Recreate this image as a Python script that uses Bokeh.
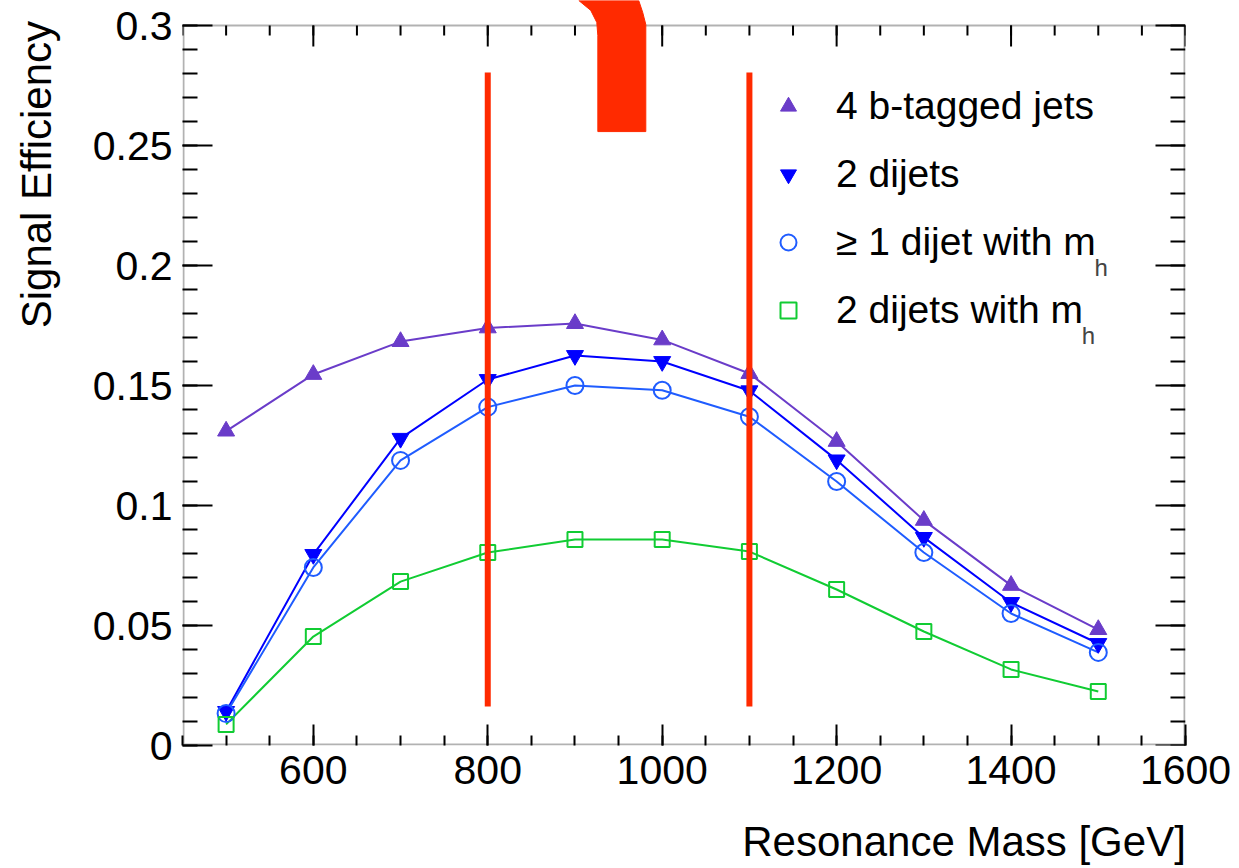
from bokeh.plotting import figure
from bokeh.models import (FixedTicker, Legend, LegendItem, Label,
                          BoxAnnotation, ColumnDataSource, Range1d)
from bokeh.embed import file_html
from bokeh.resources import INLINE

# ---------------- data ----------------
mass = [500, 600, 700, 800, 900, 1000, 1100, 1200, 1300, 1400, 1500]
eff_4b = [0.1310, 0.1546, 0.1683, 0.1740, 0.1758, 0.1690, 0.1550, 0.1267, 0.0938, 0.0667, 0.0483]
eff_2dijets = [0.0142, 0.0796, 0.1280, 0.1525, 0.1625, 0.1600, 0.1478, 0.1190, 0.0867, 0.0596, 0.0425]
eff_1dijet_mh = [0.0133, 0.0742, 0.1188, 0.1410, 0.1500, 0.1480, 0.1370, 0.1100, 0.0804, 0.0550, 0.0388]
eff_2dijets_mh = [0.0088, 0.0454, 0.0683, 0.0804, 0.0858, 0.0858, 0.0808, 0.0650, 0.0475, 0.0317, 0.0225]

labels = ["4 b-tagged jets", "2 dijets", "\u2265 1 dijet with m", "2 dijets with m"]
x_title = "Resonance Mass [GeV]"
y_title = "Signal Efficiency"

x_major = [600, 800, 1000, 1200, 1400, 1600]
x_minor = list(range(450, 1601, 50))
y_major = [0, 0.05, 0.1, 0.15, 0.2, 0.25, 0.3]
y_tick_labels = ["0", "0.05", "0.1", "0.15", "0.2", "0.25", "0.3"]
y_minor = [round(0.01 * i, 2) for i in range(0, 31)]

# red hand-drawn annotation
red_lines_x = [800, 1100]
red_lines_y0 = 0.0163
red_lines_y1 = 0.2804
hook_x = [926.2, 981.2, 981.2, 977.7, 973.1, 904.4, 918.1, 925.0, 926.2]
hook_y = [0.2558, 0.2558, 0.3004, 0.3054, 0.3104, 0.3104, 0.3063, 0.3013, 0.2958]

# ---------------- figure ----------------
FONT = "Liberation Sans"
NBSP = "\u00a0"
px_per_y = 720 / 0.3
px_per_x = 1003 / 1150
p = figure(width=1239, height=868, x_range=Range1d(450, 1600),
           y_range=Range1d(0, 0.3 + 25 / px_per_y), output_backend="svg",
           toolbar_location=None, title=None,
           min_border_left=182, min_border_right=54,
           min_border_top=0, min_border_bottom=123)
p.grid.visible = False
p.outline_line_color = None
p.background_fill_color = "white"

# frame box (inset by 1px so the clipped frame edges keep full width)
p.add_layout(BoxAnnotation(left=450 + 1 / px_per_x, right=1600 - 1 / px_per_x,
                           bottom=1 / px_per_y, top=0.3,
                           fill_color=None, line_color="black",
                           line_width=2, level="underlay"))

xa = p.xaxis[0]
xa.ticker = FixedTicker(ticks=x_major, minor_ticks=x_minor)
xa.axis_line_color = None
xa.major_tick_in = 21
xa.major_tick_out = 0
xa.minor_tick_in = 10
xa.minor_tick_out = 0
xa.major_tick_line_width = 2
xa.minor_tick_line_width = 2
xa.major_label_text_font = FONT
xa.major_label_text_font_size = "41px"
xa.major_label_text_color = "black"
xa.major_label_standoff = 10
xa.axis_label = NBSP * 48 + x_title
xa.axis_label_text_font = FONT
xa.axis_label_text_font_size = "42px"
xa.axis_label_text_font_style = "normal"
xa.axis_label_text_color = "black"
xa.axis_label_standoff = 31

ya = p.yaxis[0]
ya.ticker = FixedTicker(ticks=y_major, minor_ticks=y_minor)
ya.axis_line_color = None
ya.major_tick_in = 30
ya.major_tick_out = 0
ya.minor_tick_in = 15
ya.minor_tick_out = 0
ya.major_tick_line_width = 2
ya.minor_tick_line_width = 2
ya.major_label_text_font = FONT
ya.major_label_text_font_size = "41px"
ya.major_label_text_color = "black"
ya.major_label_standoff = 10
ya.major_label_overrides = {v: t for v, t in zip(y_major, y_tick_labels)}
ya.axis_label = NBSP * 34 + y_title
ya.axis_label_text_font = FONT
ya.axis_label_text_font_size = "42px"
ya.axis_label_text_font_style = "normal"
ya.axis_label_text_color = "black"
ya.axis_label_standoff = 30

# ticks on the top and right frame edges (frame top sits at y = 0.3)
p.segment(x0=x_major, y0=[0.3] * len(x_major), x1=x_major,
          y1=[0.3 - 21 / px_per_y] * len(x_major), line_color="black", line_width=2)
p.segment(x0=x_minor, y0=[0.3] * len(x_minor), x1=x_minor,
          y1=[0.3 - 10 / px_per_y] * len(x_minor), line_color="black", line_width=2)
p.segment(x0=[1600] * len(y_major), y0=y_major, x1=[1600 - 30 / px_per_x] * len(y_major),
          y1=y_major, line_color="black", line_width=2)
p.segment(x0=[1600] * len(y_minor), y0=y_minor, x1=[1600 - 15 / px_per_x] * len(y_minor),
          y1=y_minor, line_color="black", line_width=2)

# ---------------- series ----------------
c_4b = "#6a3cc9"
c_2d = "#0000ff"
c_1m = "#1f5cff"
c_2m = "#11cc33"

src = ColumnDataSource(dict(m=mass, a=eff_4b, b=eff_2dijets, c=eff_1dijet_mh, d=eff_2dijets_mh))

p.line("m", "a", source=src, line_color=c_4b, line_width=2)
p.line("m", "b", source=src, line_color=c_2d, line_width=2)
p.line("m", "c", source=src, line_color=c_1m, line_width=2)
p.line("m", "d", source=src, line_color=c_2m, line_width=2)

r_a = p.scatter("m", "a", source=src, marker="triangle", size=17,
                fill_color=c_4b, line_color=c_4b)
r_b = p.scatter("m", "b", source=src, marker="inverted_triangle", size=17,
                fill_color=c_2d, line_color=c_2d)
r_c = p.scatter("m", "c", source=src, marker="circle", size=17,
                fill_color=None, line_color=c_1m, line_width=2)
r_d = p.scatter("m", "d", source=src, marker="square", size=15,
                fill_color=None, line_color=c_2m, line_width=2)

# ---------------- red annotation ----------------
p.segment(x0=red_lines_x, y0=[red_lines_y0] * 2, x1=red_lines_x, y1=[red_lines_y1] * 2,
          line_color="#ff2a00", line_width=6)
p.patch(hook_x, hook_y, fill_color="#ff2a00", line_color="#ff2a00", line_width=1)

# ---------------- legend ----------------
legend = Legend(items=[LegendItem(label=labels[0], renderers=[r_a]),
                       LegendItem(label=labels[1], renderers=[r_b]),
                       LegendItem(label=labels[2], renderers=[r_c]),
                       LegendItem(label=labels[3], renderers=[r_d])],
                location=(586, 405))
legend.background_fill_alpha = 0
legend.border_line_color = None
legend.padding = 0
legend.margin = 0
legend.spacing = 8
legend.glyph_width = 40
legend.glyph_height = 60
legend.label_standoff = 28
legend.label_text_font = FONT
legend.label_text_font_size = "39px"
legend.label_text_color = "black"
p.add_layout(legend)

# subscripts h
p.add_layout(Label(x=1495.7, y=0.19917, text="h", text_font=FONT,
                   text_font_size="24px", text_baseline="alphabetic"))
p.add_layout(Label(x=1481.0, y=0.17083, text="h", text_font=FONT,
                   text_font_size="24px", text_baseline="alphabetic"))

open("out.html", "w").write(file_html(p, INLINE))
